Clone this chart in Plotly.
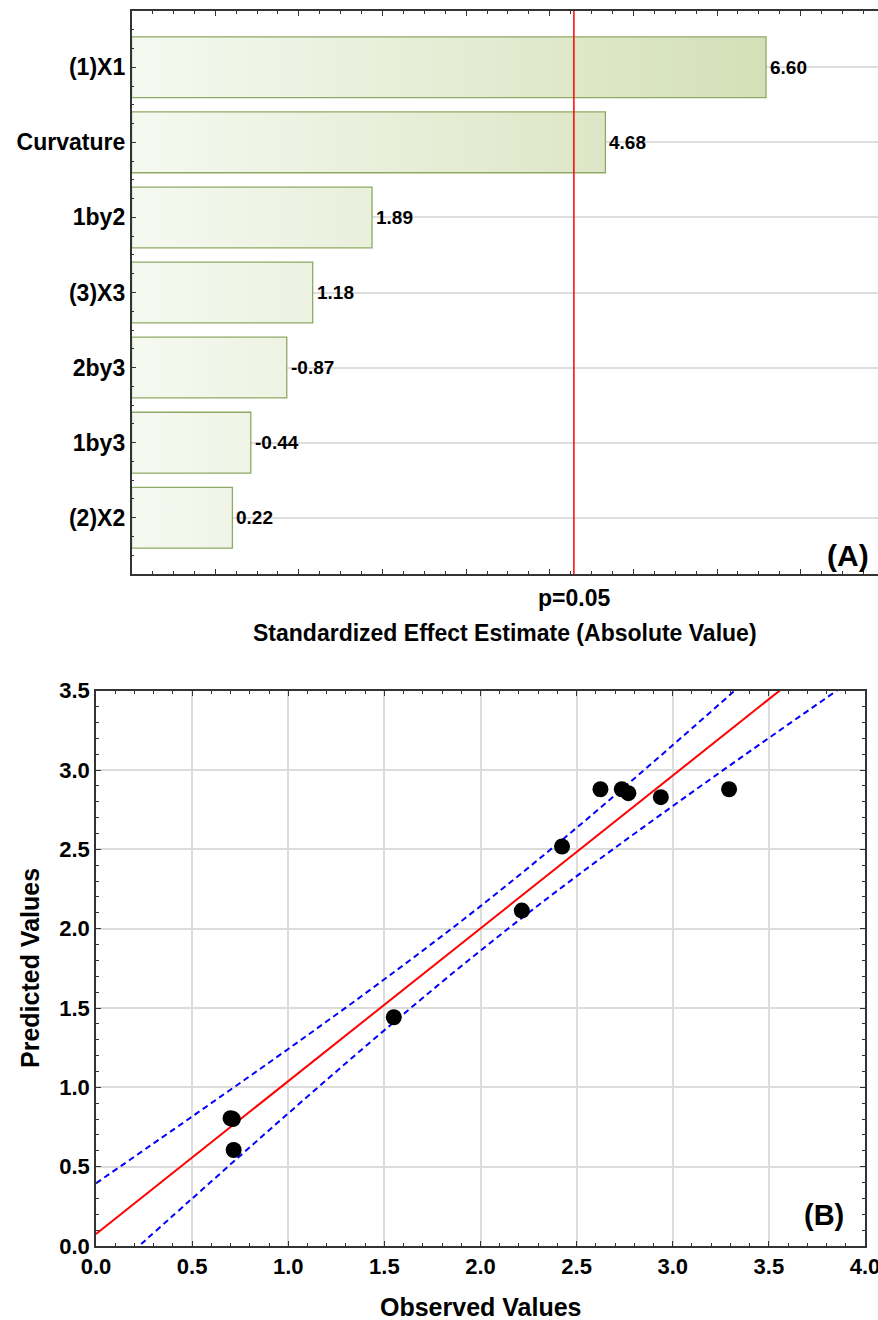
import plotly.graph_objects as go

W, H = 878, 1320

# ---------------- Panel A data (Pareto chart of standardized effects) -------------
factors = ["(1)X1", "Curvature", "1by2", "(3)X3", "2by3", "1by3", "(2)X2"]
effects = [6.60, 4.68, 1.89, 1.18, -0.87, -0.44, 0.22]
t_crit = 4.303
p_label = "p=0.05"
xa_min, xa_max = -0.985, 7.939

# ---------------- Panel B data (observed vs predicted) ----------------------------
observed = [0.700, 0.712, 0.716, 1.549, 2.424, 2.215, 2.624, 2.735, 2.769, 2.938, 3.293]
predicted = [0.805, 0.800, 0.605, 1.442, 2.518, 2.114, 2.879, 2.879, 2.854, 2.829, 2.879]
fit_intercept = 0.076
fit_slope = 0.963
band_x = [0.0, 0.5, 1.0, 1.5, 2.0, 2.5, 3.0, 3.5, 4.0]
band_upper = [0.395, 0.816, 1.242, 1.681, 2.142, 2.636, 3.157, 3.691, 4.232]
band_lower = [-0.243, 0.299, 0.836, 1.360, 1.862, 2.331, 2.773, 3.202, 3.624]

FONT = "Liberation Sans, Arial, Helvetica, sans-serif"


def px_x(p):
    return p / W


def px_y(p):
    return 1 - p / H


fig = go.Figure()

# ---- Panel A bars (gradient-filled rectangles) ----
half = 0.405
vmax = max(abs(e) for e in effects)
for i, e in enumerate(effects):
    v = abs(e)
    fig.add_trace(go.Scatter(
        x=[xa_min, v, v, xa_min, xa_min],
        y=[i - half, i - half, i + half, i + half, i - half],
        mode="lines", fill="toself",
        fillgradient=dict(type="horizontal",
                          colorscale=[[0, "#f6f9f1"], [1, "#d4e0b7"]],
                          start=xa_min, stop=vmax),
        line=dict(color="#8fa964", width=1.3),
        hoverinfo="skip", showlegend=False,
        xaxis="x", yaxis="y",
    ))

label_annos = [
    dict(text=f"{e:.2f}", xref="x", yref="y", x=abs(e), y=i, xanchor="left", yanchor="middle",
         xshift=2, showarrow=False, font=dict(family=FONT, size=19, color="black", weight="bold"))
    for i, e in enumerate(effects)
]

# ---- Panel B ----
fig.add_trace(go.Scatter(
    x=band_x, y=band_upper, mode="lines", line=dict(color="#0000ff", width=2, dash="6px,4px", shape="spline"),
    showlegend=False, hoverinfo="skip", xaxis="x2", yaxis="y2"))
fig.add_trace(go.Scatter(
    x=band_x, y=band_lower, mode="lines", line=dict(color="#0000ff", width=2, dash="6px,4px", shape="spline"),
    showlegend=False, hoverinfo="skip", xaxis="x2", yaxis="y2"))
fx = [band_x[0], band_x[-1]]
fig.add_trace(go.Scatter(
    x=fx, y=[fit_intercept + fit_slope * v for v in fx], mode="lines",
    line=dict(color="#ff0000", width=2), showlegend=False, hoverinfo="skip",
    xaxis="x2", yaxis="y2"))
fig.add_trace(go.Scatter(
    x=observed, y=predicted, mode="markers",
    marker=dict(color="black", size=16, line=dict(width=0)),
    showlegend=False, xaxis="x2", yaxis="y2"))

tickfont = dict(family=FONT, size=22, color="black", weight="bold")

fig.update_layout(
    width=W, height=H,
    margin=dict(l=0, r=0, t=0, b=0, pad=0, autoexpand=False),
    paper_bgcolor="white", plot_bgcolor="white",
    font=dict(family=FONT, color="black"),
    showlegend=False,
    xaxis=dict(
        domain=[px_x(131.6), 1.0], range=[xa_min, xa_max], automargin=False,
        showticklabels=False, showgrid=False, zeroline=False,
        ticks="inside", tick0=xa_min, dtick=1, ticklen=5, tickcolor="#333", tickwidth=1.2,
        minor=dict(ticks="inside", dtick=0.25, tick0=xa_min, ticklen=3, tickcolor="#333", showgrid=False),
        showline=True, linecolor="#333", linewidth=1.6, mirror="ticks",
        anchor="y",
    ),
    yaxis=dict(
        domain=[px_y(574), px_y(11)], range=[6.75, -0.75], automargin=False,
        tickmode="array", tickvals=list(range(len(factors))), ticktext=factors,
        tickfont=dict(family=FONT, size=23, color="black", weight="bold"),
        ticks="inside", ticklen=5, tickcolor="#333", tickwidth=1.2,
        minor=dict(ticks="inside", tickvals=[k / 4 - 0.75 for k in range(31)], ticklen=3, tickcolor="#333", showgrid=False),
        showgrid=True, gridcolor="#dedede", gridwidth=2, zeroline=False,
        showline=True, linecolor="#333", linewidth=1.6,
        anchor="x",
    ),
    xaxis2=dict(
        domain=[px_x(96), px_x(865)], range=[0, 4], automargin=False,
        tick0=0, dtick=0.5, tickformat=".1f", tickfont=tickfont, ticklabeloverflow="allow",
        ticks="inside", ticklen=5, tickcolor="#333", tickwidth=1.2,
        minor=dict(ticks="inside", dtick=0.1, ticklen=3, tickcolor="#333", showgrid=False),
        showgrid=True, gridcolor="#dcdcdc", gridwidth=1.5, zeroline=False,
        showline=True, linecolor="#333", linewidth=1.6, mirror="ticks",
        anchor="y2",
    ),
    yaxis2=dict(
        domain=[px_y(1246), px_y(690.7)], range=[0, 3.5], automargin=False,
        tick0=0, dtick=0.5, tickformat=".1f", tickfont=tickfont, ticklabeloverflow="allow",
        ticks="inside", ticklen=5, tickcolor="#333", tickwidth=1.2,
        minor=dict(ticks="inside", dtick=0.1, ticklen=3, tickcolor="#333", showgrid=False),
        showgrid=True, gridcolor="#dcdcdc", gridwidth=1.5, zeroline=False,
        showline=True, linecolor="#333", linewidth=1.6, mirror="ticks",
        anchor="x2",
    ),
    shapes=[dict(type="line", xref="x", yref="y domain", x0=t_crit, x1=t_crit, y0=0, y1=1,
                 line=dict(color="#ff0000", width=1.5))],
    annotations=label_annos + [
        dict(text=p_label, xref="x", yref="paper", x=t_crit, y=px_y(598), showarrow=False,
             xanchor="center", yanchor="middle", font=dict(family=FONT, size=23, weight="bold")),
        dict(text="Standardized Effect Estimate (Absolute Value)", xref="paper", yref="paper",
             x=px_x(505), y=px_y(633), showarrow=False, xanchor="center", yanchor="middle",
             font=dict(family=FONT, size=23, weight="bold")),
        dict(text="(A)", xref="paper", yref="paper", x=px_x(871), y=px_y(556), showarrow=False,
             xanchor="right", yanchor="middle", font=dict(family=FONT, size=30, weight="bold")),
        dict(text="(B)", xref="paper", yref="paper", x=px_x(846), y=px_y(1215), showarrow=False,
             xanchor="right", yanchor="middle", font=dict(family=FONT, size=29, weight="bold")),
        dict(text="Observed Values", xref="paper", yref="paper", x=px_x(480.5), y=px_y(1307),
             showarrow=False, xanchor="center", yanchor="middle",
             font=dict(family=FONT, size=25, weight="bold")),
        dict(text="Predicted Values", xref="paper", yref="paper", x=px_x(30), y=px_y(968),
             showarrow=False, xanchor="center", yanchor="middle", textangle=-90,
             font=dict(family=FONT, size=25, weight="bold")),
    ],
)

fig.write_html("out.html", config={"displayModeBar": False},
               post_script="document.body.style.margin='0';document.body.style.padding='0';")
